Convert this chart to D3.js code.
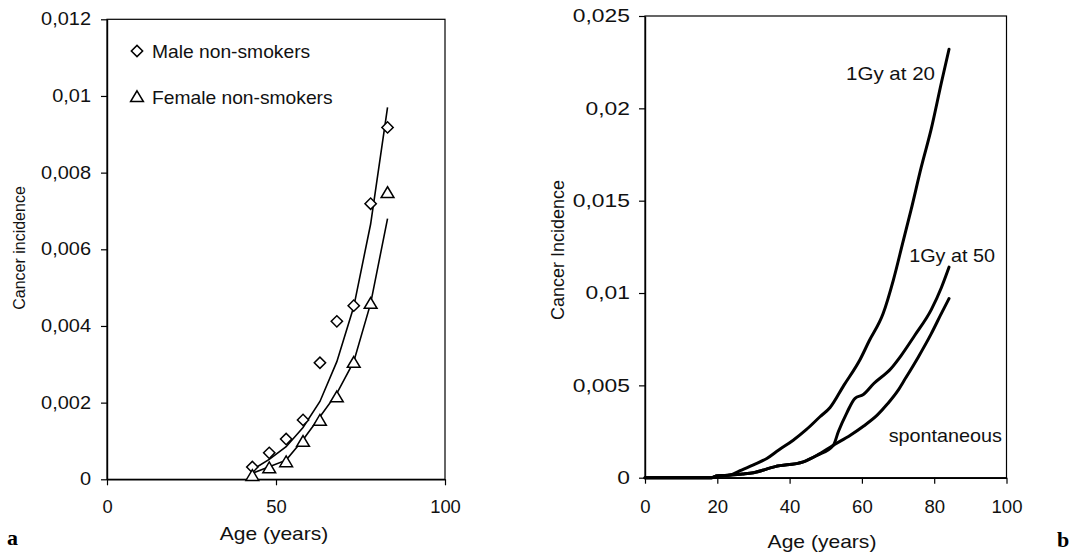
<!DOCTYPE html>
<html>
<head>
<meta charset="utf-8">
<script src="https://cdn.jsdelivr.net/npm/d3@7"></script>
<style>
  html, body { margin: 0; padding: 0; background: #fff; }
  svg { display: block; font-family: "Liberation Sans", Arial, sans-serif; }
</style>
</head>
<body>
<svg id="chart" width="1070" height="552"></svg>
<script>
// ---- Panel a: lung cancer incidence, non-smokers ----
const ageGroups      = [43, 48, 53, 58, 63, 68, 73, 78, 83];
const maleObserved   = [0.00032, 0.00069, 0.00105, 0.00155, 0.00304, 0.00412, 0.00453, 0.00719, 0.00918];
const femaleObserved = [0.00009, 0.00029, 0.00045, 0.00098, 0.00153, 0.00214, 0.00304, 0.00458, 0.00747];
const maleFit        = [0.00025, 0.00052, 0.00085, 0.00135, 0.00203, 0.00307, 0.0045, 0.00666, 0.0097];
const femaleFit      = [0.00016, 0.00033, 0.0005, 0.00103, 0.00163, 0.00224, 0.00307, 0.00459, 0.0068];
const legendLabels   = ["Male non-smokers", "Female non-smokers"];
const aYTicks = [0, 0.002, 0.004, 0.006, 0.008, 0.01, 0.012];
const aXTicks = [0, 50, 100];

// ---- Panel b: model incidence after 1 Gy ----
const ageAt20 = [0, 18.4, 19.8, 23.5, 26.3, 30, 33.7, 37, 41, 44.6, 48.4, 51.2, 55, 59.5, 62, 65.9, 68.7, 71.4, 73.6, 76.4, 79.2, 82, 84.1];
const gyAt20  = [0, 0, 0.00009, 0.00014, 0.00038, 0.0007, 0.00104, 0.0015, 0.00203, 0.0026, 0.0033, 0.0038, 0.005, 0.0064, 0.0074, 0.0089, 0.0107, 0.0128, 0.0145, 0.0168, 0.0189, 0.0214, 0.0232];
const ageAt50 = [0, 18.4, 19.8, 23.5, 27, 30, 36, 43.8, 47.5, 52.1, 53.5, 55.8, 58.1, 60.4, 63.3, 68, 70.8, 74.6, 79.2, 82, 84.1];
const gyAt50  = [0, 0, 0.00009, 0.00014, 0.0002, 0.00027, 0.0006, 0.00086, 0.0012, 0.00176, 0.0025, 0.0035, 0.0043, 0.0045, 0.0051, 0.0059, 0.0066, 0.0077, 0.0091, 0.0103, 0.0114];
const ageSpont = [0, 18.4, 19.8, 23.5, 27, 30, 36, 43.8, 47.5, 52.1, 56.8, 60.5, 64.3, 67.1, 69.9, 71.8, 75.5, 79.2, 82, 84.1];
const spontaneous = [0, 0, 0.00009, 0.00014, 0.0002, 0.00027, 0.0006, 0.00086, 0.0012, 0.00176, 0.0023, 0.0028, 0.0034, 0.004, 0.0047, 0.0053, 0.0065, 0.0078, 0.0089, 0.0097];
const curveLabels = ["1Gy at 20", "1Gy at 50", "spontaneous"];
const bYTicks = [0, 0.005, 0.01, 0.015, 0.02, 0.025];
const bXTicks = [0, 20, 40, 60, 80, 100];

const svg = d3.select("#chart");
const decimalComma = v => String(+v.toFixed(4)).replace(".", ",");
const zip = (xs, ys) => xs.map((x, i) => [x, ys[i]]);

// horizontal text with a slight widening, as in the printed figure
function label(g, x, y, str, fs, anchor, sx) {
  g.append("text")
    .attr("transform", `translate(${x},${y}) scale(${sx},1)`)
    .attr("text-anchor", anchor)
    .attr("font-size", fs)
    .attr("fill", "#111")
    .text(str);
}

function drawFrame(x, y, xTicks, yTicks, fs, sxY, sxX, xPad, yPad) {
  const [x0, x1] = x.range();
  const [y0, y1] = y.range();
  // plot box
  svg.append("rect")
    .attr("x", x0).attr("y", y1)
    .attr("width", x1 - x0).attr("height", y0 - y1)
    .attr("fill", "none").attr("stroke", "#000").attr("stroke-width", 1.2);

  const gy = svg.append("g").attr("transform", `translate(${x0},0)`)
    .call(d3.axisLeft(y).tickValues(yTicks).tickSizeInner(6).tickSizeOuter(0).tickPadding(yPad)
      .tickFormat(decimalComma));
  const gx = svg.append("g").attr("transform", `translate(0,${y0})`)
    .call(d3.axisBottom(x).tickValues(xTicks).tickSizeInner(6).tickSizeOuter(0).tickPadding(xPad)
      .tickFormat(d3.format("d")));
  [gy, gx].forEach(g => {
    g.select(".domain").attr("stroke", "#000").attr("stroke-width", 1.4);
    g.selectAll(".tick line").attr("stroke", "#000").attr("stroke-width", 1.2);
    g.selectAll(".tick text").attr("font-size", fs).attr("fill", "#111")
      .attr("font-family", "'Liberation Sans', Arial, sans-serif");
  });
  gy.selectAll(".tick text").each(function () {
    const t = d3.select(this);
    t.attr("x", +t.attr("x") / sxY).attr("transform", `scale(${sxY},1)`);
  });
  gx.selectAll(".tick text").attr("transform", `scale(${sxX},1)`);
}

// ================= Panel a =================
const xa = d3.scaleLinear().domain([0, 100]).range([107, 445]);
const ya = d3.scaleLinear().domain([0, 0.012]).range([479.3, 19.3]);
drawFrame(xa, ya, aXTicks, aYTicks, 17.5, 1.14, 1.05, 15, 10);

const lineA = d3.line().x(d => xa(d[0])).y(d => ya(d[1]));
svg.append("path").attr("d", lineA(zip(ageGroups, maleFit)))
  .attr("fill", "none").attr("stroke", "#000").attr("stroke-width", 1.6);
svg.append("path").attr("d", lineA(zip(ageGroups, femaleFit)))
  .attr("fill", "none").attr("stroke", "#000").attr("stroke-width", 1.6);

const diamond = d3.symbol().type(d3.symbolSquare).size(64)();
const triangle = "M0,-6.2L6.4,4.6L-6.4,4.6Z";

svg.append("g").selectAll("path").data(zip(ageGroups, maleObserved)).join("path")
  .attr("d", diamond)
  .attr("transform", d => `translate(${xa(d[0])},${ya(d[1])}) rotate(45)`)
  .attr("fill", "#fff").attr("stroke", "#000").attr("stroke-width", 1.5);
svg.append("g").selectAll("path").data(zip(ageGroups, femaleObserved)).join("path")
  .attr("d", triangle)
  .attr("transform", d => `translate(${xa(d[0])},${ya(d[1])})`)
  .attr("fill", "#fff").attr("stroke", "#000").attr("stroke-width", 1.5);

// legend
const lg = svg.append("g");
lg.append("path").attr("d", diamond).attr("transform", "translate(137,51) rotate(45)")
  .attr("fill", "#fff").attr("stroke", "#000").attr("stroke-width", 1.5);
lg.append("path").attr("d", triangle).attr("transform", "translate(137,97)")
  .attr("fill", "#fff").attr("stroke", "#000").attr("stroke-width", 1.5);
label(lg, 152, 57.5, legendLabels[0], 17.5, "start", 1.1);
label(lg, 152, 103.5, legendLabels[1], 17.5, "start", 1.1);

// axis titles
label(svg, 274, 540, "Age (years)", 17.5, "middle", 1.2);
svg.append("text")
  .attr("transform", "translate(25,248) rotate(-90)")
  .attr("text-anchor", "middle").attr("font-size", 16).attr("fill", "#111")
  .text("Cancer incidence");

// ================= Panel b =================
const xb = d3.scaleLinear().domain([0, 100]).range([645, 1006.5]);
const yb = d3.scaleLinear().domain([0, 0.025]).range([477.7, 16]);
drawFrame(xb, yb, bXTicks, bYTicks, 18, 1.27, 1.03, 17, 9);

const lineB = d3.line().x(d => xb(d[0])).y(d => yb(d[1])).curve(d3.curveMonotoneX);
[[ageSpont, spontaneous], [ageAt50, gyAt50], [ageAt20, gyAt20]].forEach(([ax, vy]) => {
  svg.append("path").attr("d", lineB(zip(ax, vy)))
    .attr("fill", "none").attr("stroke", "#000").attr("stroke-width", 3)
    .attr("stroke-linejoin", "round").attr("stroke-linecap", "round");
});

label(svg, 935, 80, curveLabels[0], 18, "end", 1.14);
label(svg, 995, 262, curveLabels[1], 18, "end", 1.1);
label(svg, 1002, 442, curveLabels[2], 18, "end", 1.1);

label(svg, 822, 548, "Age (years)", 18, "middle", 1.17);
svg.append("text")
  .attr("transform", "translate(564,250) rotate(-90)")
  .attr("text-anchor", "middle").attr("font-size", 18).attr("fill", "#111")
  .text("Cancer Incidence");

// panel letters
svg.append("text").attr("x", 7).attr("y", 545)
  .attr("font-family", "'Liberation Serif', 'Times New Roman', serif")
  .attr("font-weight", "bold").attr("font-size", 22).text("a");
svg.append("text").attr("x", 1057).attr("y", 547)
  .attr("font-family", "'Liberation Serif', 'Times New Roman', serif")
  .attr("font-weight", "bold").attr("font-size", 22).text("b");
</script>
</body>
</html>
